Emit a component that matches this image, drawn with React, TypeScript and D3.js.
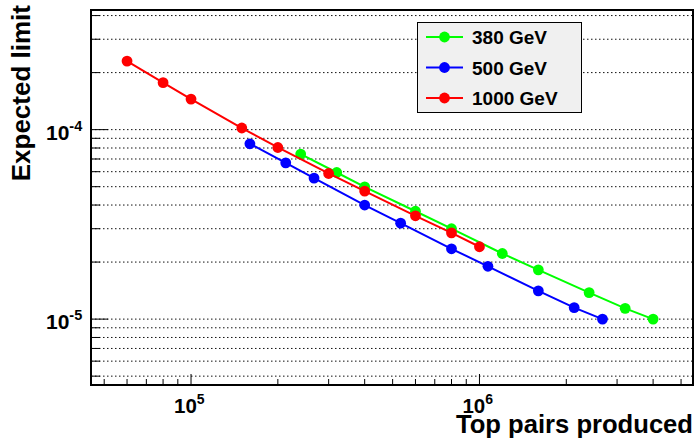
import React, { useEffect, useRef } from "react";
import * as d3 from "d3";

// valores
const nombres = ["380 GeV", "500 GeV", "1000 GeV"];
const colores = ["#00ff00", "#0000ff", "#ff0000"];

const pares380 = [2.4e5, 3.2e5, 4e5, 6e5, 8e5, 1.2e6, 1.6e6, 2.4e6, 3.2e6, 4e6];
const limite380 = [7.43e-5, 5.94e-5, 4.99e-5, 3.71e-5, 3.0e-5, 2.22e-5, 1.82e-5, 1.38e-5, 1.14e-5, 1.0e-5];

const pares500 = [1.6e5, 2.13e5, 2.67e5, 4e5, 5.33e5, 8e5, 1.07e6, 1.6e6, 2.13e6, 2.67e6];
const limite500 = [8.42e-5, 6.68e-5, 5.55e-5, 4.0e-5, 3.21e-5, 2.35e-5, 1.9e-5, 1.41e-5, 1.15e-5, 1.0e-5];

const pares1000 = [6e4, 8e4, 1e5, 1.5e5, 2e5, 3e5, 4e5, 6e5, 8e5, 1e6];
const limite1000 = [2.3e-4, 1.77e-4, 1.45e-4, 1.02e-4, 8.05e-5, 5.87e-5, 4.74e-5, 3.51e-5, 2.85e-5, 2.41e-5];

const ticksX = [5e4, 6e4, 7e4, 8e4, 9e4, 1e5, 2e5, 3e5, 4e5, 5e5, 6e5, 7e5, 8e5, 9e5, 1e6, 2e6, 3e6, 4e6, 5e6];
const ticksY = [5e-6, 6e-6, 7e-6, 8e-6, 9e-6, 1e-5, 2e-5, 3e-5, 4e-5, 5e-5, 6e-5, 7e-5, 8e-5, 9e-5, 1e-4, 2e-4, 3e-4, 4e-4];
const etiquetasX = [[1e5, "5"], [1e6, "6"]];
const etiquetasY = [[1e-4, "-4"], [1e-5, "-5"]];

const App = () => {
  const refToSvg = useRef(null);

  useEffect(() => {
    const width = 695;
    const height = 440;
    const left = 91, right = 693, top = 10, bottom = 385;
    const fuente = "'Liberation Sans', Arial, sans-serif";

    const svg = d3.select(refToSvg.current);
    svg.selectAll("*").remove();
    svg.attr("width", width).attr("height", height).attr("viewBox", [0, 0, width, height]);

    const x = d3.scaleLog().domain([4.5e4, 5.5e6]).range([left, right]);
    const y = d3.scaleLog().domain([4.49e-6, 4.28e-4]).range([bottom, top]);

    const esMayor = (v) => Math.abs(Math.log10(v) - Math.round(Math.log10(v))) < 1e-6;

    svg.append("rect").attr("width", width).attr("height", height).attr("fill", "white");

    // rejilla horizontal punteada
    svg
      .append("g")
      .selectAll("line")
      .data(ticksY)
      .join("line")
      .attr("x1", left)
      .attr("x2", right)
      .attr("y1", (d) => y(d))
      .attr("y2", (d) => y(d))
      .attr("stroke", "#111")
      .attr("stroke-width", 1)
      .attr("stroke-dasharray", "1.5,2.5");

    // marcas eje y
    svg
      .append("g")
      .selectAll("line")
      .data(ticksY)
      .join("line")
      .attr("x1", left)
      .attr("x2", (d) => left + (esMayor(d) ? 17 : 9))
      .attr("y1", (d) => y(d))
      .attr("y2", (d) => y(d))
      .attr("stroke", "black")
      .attr("stroke-width", 1);

    // marcas eje x
    svg
      .append("g")
      .selectAll("line")
      .data(ticksX)
      .join("line")
      .attr("x1", (d) => x(d))
      .attr("x2", (d) => x(d))
      .attr("y1", bottom)
      .attr("y2", (d) => bottom - (esMayor(d) ? 11 : 6))
      .attr("stroke", "black")
      .attr("stroke-width", 1);

    // marco
    svg
      .append("rect")
      .attr("x", left)
      .attr("y", top)
      .attr("width", right - left)
      .attr("height", bottom - top)
      .attr("fill", "none")
      .attr("stroke", "black")
      .attr("stroke-width", 2);

    // etiquetas de los ejes
    const tx = svg
      .append("g")
      .selectAll("text")
      .data(etiquetasX)
      .join("text")
      .attr("x", (d) => x(d[0]) - 17)
      .attr("y", 413)
      .attr("font-family", fuente)
      .attr("font-weight", "bold")
      .attr("font-size", 20.5);
    tx.append("tspan").text("10");
    tx.append("tspan").attr("dy", -9).attr("font-size", 14).text((d) => d[1]);

    const ty = svg
      .append("g")
      .selectAll("text")
      .data(etiquetasY)
      .join("text")
      .attr("x", 46)
      .attr("y", (d) => y(d[0]) + 10)
      .attr("font-family", fuente)
      .attr("font-weight", "bold")
      .attr("font-size", 21);
    ty.append("tspan").text("10");
    ty.append("tspan").attr("dy", -9).attr("font-size", 14.5).text((d) => d[1]);

    svg
      .append("text")
      .attr("x", right)
      .attr("y", 433)
      .attr("text-anchor", "end")
      .attr("font-family", fuente)
      .attr("font-weight", "bold")
      .attr("font-size", 25.6)
      .text("Top pairs produced");

    svg
      .append("text")
      .attr("transform", `translate(30,${top - 5}) rotate(-90)`)
      .attr("text-anchor", "end")
      .attr("font-family", fuente)
      .attr("font-weight", "bold")
      .attr("font-size", 26)
      .text("Expected limit");

    // series
    const series = [
      [pares380, limite380],
      [pares500, limite500],
      [pares1000, limite1000],
    ];
    const linea = d3
      .line()
      .x((d) => x(d[0]))
      .y((d) => y(d[1]));

    series.forEach(([px, py], i) => {
      const puntos = px.map((v, j) => [v, py[j]]);
      const g = svg.append("g");
      g.append("path")
        .attr("d", linea(puntos))
        .attr("fill", "none")
        .attr("stroke", colores[i])
        .attr("stroke-width", 2);
      g.selectAll("circle")
        .data(puntos)
        .join("circle")
        .attr("cx", (d) => x(d[0]))
        .attr("cy", (d) => y(d[1]))
        .attr("r", 5.4)
        .attr("fill", colores[i]);
    });

    // leyenda
    const leyenda = svg.append("g");
    leyenda
      .append("rect")
      .attr("x", 417.5)
      .attr("y", 22.5)
      .attr("width", 164)
      .attr("height", 90)
      .attr("fill", "#f0f0f0")
      .attr("stroke", "black")
      .attr("stroke-width", 1);
    const filas = [37, 67.5, 98];
    nombres.forEach((n, i) => {
      leyenda
        .append("line")
        .attr("x1", 426)
        .attr("x2", 463)
        .attr("y1", filas[i])
        .attr("y2", filas[i])
        .attr("stroke", colores[i])
        .attr("stroke-width", 2);
      leyenda
        .append("circle")
        .attr("cx", 444.5)
        .attr("cy", filas[i])
        .attr("r", 5.4)
        .attr("fill", colores[i]);
      leyenda
        .append("text")
        .attr("x", 472)
        .attr("y", filas[i] + 7)
        .attr("font-family", fuente)
        .attr("font-weight", "bold")
        .attr("font-size", 19)
        .text(n);
    });
  }, []);

  return <svg ref={refToSvg} style={{ position: "absolute", left: 0, top: 0 }} />;
};

export default App;
